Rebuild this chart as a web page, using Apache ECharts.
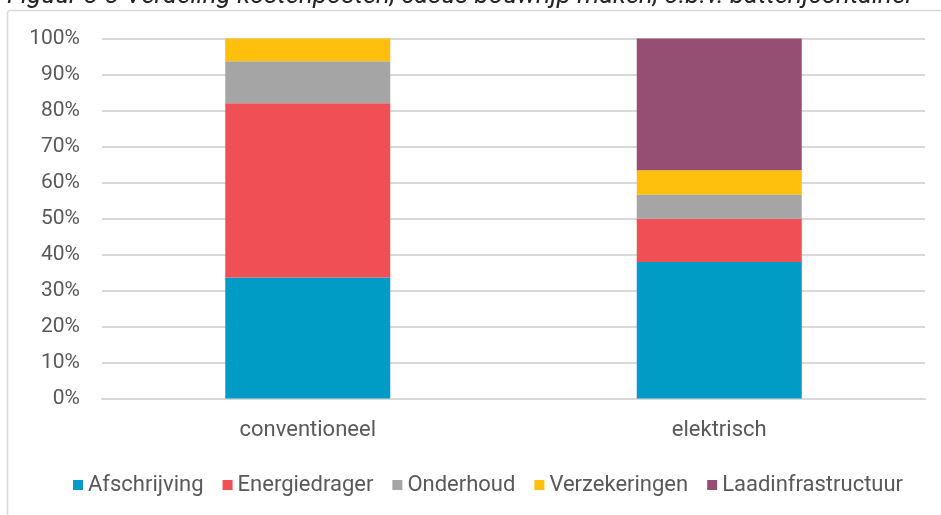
<!DOCTYPE html>
<html>
<head>
<meta charset="utf-8">
<script src="https://cdn.jsdelivr.net/npm/echarts@6/dist/echarts.min.js"></script>
<style>
  html, body { margin: 0; padding: 0; background: #fff; }
  #chart { width: 941px; height: 515px; }
</style>
</head>
<body>
<div id="chart"></div>
<script>
const categories = ["conventioneel", "elektrisch"];
const seriesNames = ["Afschrijving", "Energiedrager", "Onderhoud", "Verzekeringen", "Laadinfrastructuur"];
const afschrijving = [33.6, 37.9];
const energiedrager = [48.4, 12.0];
const onderhoud = [11.7, 6.8];
const verzekeringen = [6.3, 6.7];
const laadinfrastructuur = [0, 36.6];
const colorList = ["#009cc5", "#ef4f55", "#a5a5a5", "#ffc00d", "#954f72"];
const titleText = "Figuur 3-3 Verdeling kostenposten, casus bouwrijp maken, o.b.v. batterijcontainer";

const values = [afschrijving, energiedrager, onderhoud, verzekeringen, laadinfrastructuur];
const font = "Roboto";

let myChart = echarts.init(document.getElementById("chart"));
myChart.setOption({
  animation: false,
  backgroundColor: "#fff",
  graphic: [
    {
      type: "rect",
      shape: { x: 7.5, y: 10.5, width: 1000, height: 600, r: 3 },
      style: { fill: "#fff", stroke: "#d9d9d9", lineWidth: 1.5 },
      z: -10,
    },
    {
      type: "text",
      left: 7,
      top: -17,
      style: {
        text: titleText,
        font: "italic 26px Roboto",
        fill: "#262626",
      },
    },
  ],
  grid: {
    left: 102,
    right: 16,
    top: 38.5,
    bottom: 116.5,
  },
  legend: {
    left: 68,
    top: 469,
    icon: "rect",
    itemWidth: 10,
    itemHeight: 10,
    itemGap: 19,
    textStyle: { fontFamily: font, fontSize: 22, color: "#595959", padding: [0, 0, 0, 0] },
    data: seriesNames,
  },
  xAxis: {
    type: "category",
    data: categories,
    axisLine: { lineStyle: { color: "#d9d9d9", width: 2 } },
    axisTick: { show: false },
    axisLabel: { color: "#595959", fontFamily: font, fontSize: 22, margin: 21 },
  },
  yAxis: {
    type: "value",
    min: 0,
    max: 100,
    interval: 10,
    axisLabel: { color: "#595959", fontFamily: font, fontSize: 21, margin: 22, formatter: "{value}%" },
    splitLine: { lineStyle: { color: "#d9d9d9", width: 2 } },
  },
  series: seriesNames.map((name, index) => ({
    name: name,
    type: "bar",
    stack: "total",
    barWidth: 165,
    data: values[index],
    itemStyle: { color: colorList[index] },
  })),
});
</script>
</body>
</html>
